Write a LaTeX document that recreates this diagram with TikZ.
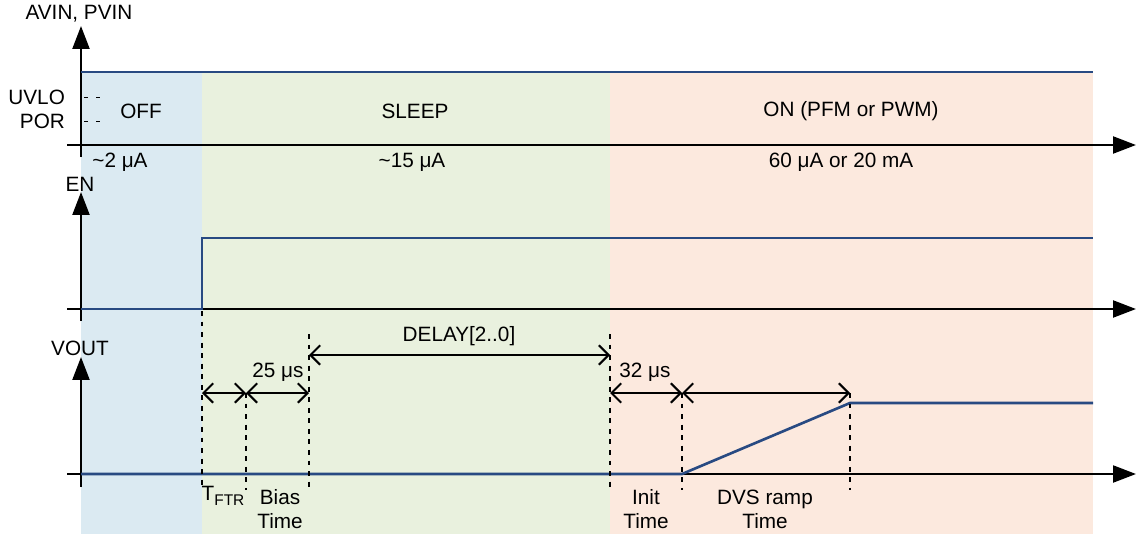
\documentclass[tikz,border=0pt]{standalone}
\usepackage{fontspec}
\setmainfont{Liberation Sans}
\usetikzlibrary{arrows.meta,positioning}
\definecolor{OffBlue}{RGB}{219,234,242}
\definecolor{SleepGreen}{RGB}{233,241,222}
\definecolor{OnOrange}{RGB}{252,233,222}
\definecolor{SignalBlue}{RGB}{40,74,130}

\begin{document}
\begin{tikzpicture}[x=0.02cm, y=-0.02cm,
  axis/.style={line width=1.3pt, -{Triangle[length=13pt,width=9.6pt]}},
  signal/.style={SignalBlue, line width=1.5pt},
  guide/.style={dash pattern=on 2.8pt off 3.2pt, line width=0.6pt},
  span/.style={line width=1.2pt, {Straight Barb[length=5.5pt,width=11pt]}-{Straight Barb[length=5.5pt,width=11pt]}},
  lbl/.style={font=\fontsize{11.8}{13.6}\selectfont, inner sep=1pt, align=center},
]
  \useasboundingbox (0,0) rectangle (1137,534);

  % Phase backgrounds
  \fill[OffBlue] (81,72) rectangle (202,534);
  \fill[SleepGreen] (202,72) rectangle (610,534);
  \fill[OnOrange] (610,72) rectangle (1093,534);

  % Supply panel
  \coordinate (vinB) at (81,157);
  \coordinate (vinT) at (81,26);
  \coordinate (vinL) at (67,145);
  \coordinate (vinR) at (1136,145);
  \draw[axis] (vinB) -- (vinT);
  \draw[axis] (vinL) -- (vinR);
  \node[lbl] (vinlbl) at (79,14) {AVIN, PVIN};
  \coordinate (vinS) at (81,72);
  \coordinate (vinE) at (1093,72);
  \draw[signal] (vinS) -- (vinE);
  \node[lbl, anchor=east] (uvlo) at (67,97) {UVLO};
  \node[lbl, anchor=east] (por) at (67,121) {POR};
  \foreach \yy in {97,121} {
    \draw[line width=0.5pt] (84,\yy) -- (88,\yy) (96,\yy) -- (100,\yy);
  }
  \node[lbl] (off) at (141,111) {OFF};
  \node[lbl] (sleep) at (415,111) {SLEEP};
  \node[lbl] (on) at (851,111) {ON (PFM or PWM)};
  \node[lbl] (ioff) at (120,162) {\textasciitilde2 μA};
  \node[lbl] (isleep) at (412,162) {\textasciitilde15 μA};
  \node[lbl] (ion) at (841,162) {60 μA or 20 mA};

  % Enable panel
  \coordinate (enB) at (81,321);
  \coordinate (enT) at (81,192);
  \coordinate (enL) at (67,309);
  \coordinate (enR) at (1136,309);
  \draw[axis] (enB) -- (enT);
  \draw[axis] (enL) -- (enR);
  \node[lbl] (enlbl) at (80,184) {EN};
  \coordinate (en0) at (81,309);
  \coordinate (en1) at (202,309);
  \coordinate (en2) at (202,238);
  \coordinate (en3) at (1093,238);
  \draw[signal] (en0) -- (en1) -- (en2) -- (en3);

  % Output panel
  \coordinate (voB) at (81,487);
  \coordinate (voT) at (81,357);
  \coordinate (voL) at (67,474);
  \coordinate (voR) at (1136,474);
  \draw[axis] (voB) -- (voT);
  \draw[axis] (voL) -- (voR);
  \node[lbl] (volbl) at (80,348) {VOUT};
  \coordinate (vo0) at (81,474);
  \coordinate (vo1) at (682,474);
  \coordinate (vo2) at (850,403);
  \coordinate (vo3) at (1093,403);
  \draw[signal] (vo0) -- (vo1) -- (vo2) -- (vo3);

  % Timing marks
  \coordinate (tEn) at (202,311);
  \coordinate (tFtr) at (246,393);
  \coordinate (tBias) at (309,334);
  \coordinate (tDly) at (610,334);
  \coordinate (tInit) at (682,393);
  \coordinate (tRamp) at (850,393);
  \foreach \t in {tEn,tFtr,tBias,tDly,tInit,tRamp} {
    \draw[guide] (\t) -- (\t |- 0,490);
  }
  \coordinate (aFtr) at (202,393);
  \coordinate (aBias) at (309,393);
  \coordinate (aDly) at (309,355);
  \coordinate (bDly) at (610,355);
  \coordinate (aInit) at (610,393);
  \draw[span] (aFtr) -- (tFtr);
  \draw[span] (tFtr) -- (aBias);
  \draw[span] (aDly) -- (bDly);
  \draw[span] (aInit) -- (tInit);
  \draw[span] (tInit) -- (tRamp);
  \node[lbl] (bias) at (278,372) {25 μs};
  \node[lbl] (delay) at (459,336) {DELAY[2..0]};
  \node[lbl] (init) at (645,372) {32 μs};

  % Interval names
  \node[lbl] (ftrlbl) at (223,496) {T\raisebox{-0.5ex}{\fontsize{8.8}{10}\selectfont FTR}};
  \node[lbl] (biaslbl) at (280,509) {Bias\\Time};
  \node[lbl] (initlbl) at (646,509) {Init\\Time};
  \node[lbl] (ramplbl) at (765,509) {DVS ramp\\Time};
\end{tikzpicture}
\end{document}
